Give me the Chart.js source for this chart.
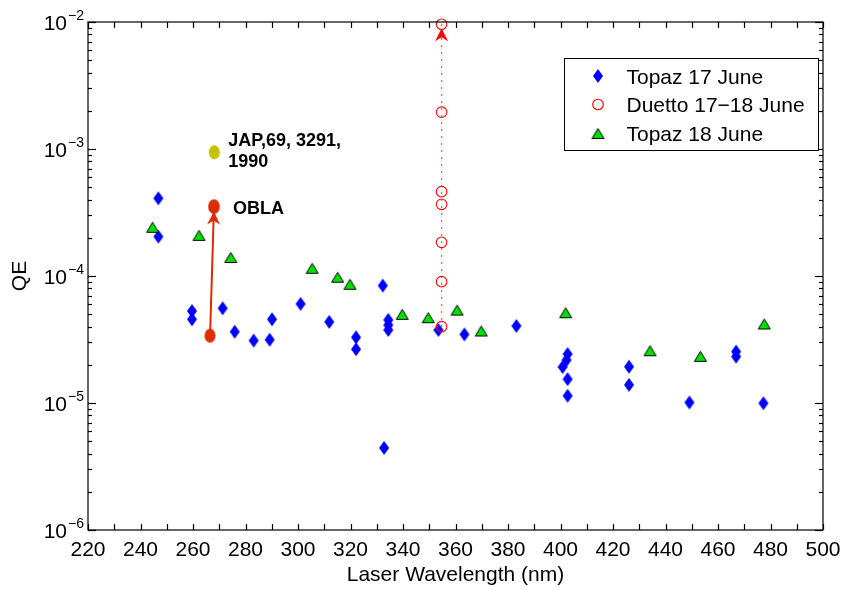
<!DOCTYPE html>
<html>
<head>
<meta charset="utf-8">
<script src="https://cdn.jsdelivr.net/npm/chart.js@4.4.1/dist/chart.umd.min.js"></script>
<style>
  html, body { margin: 0; padding: 0; background: #ffffff; }
  canvas { display: block; }
</style>
</head>
<body>
<canvas id="qe" width="842" height="590"></canvas>
<script>
// ---- Measured quantum efficiency vs. laser wavelength ----
const topaz17Wl = [246.8, 246.8, 259.6, 259.6, 271.3, 275.9, 283.1, 289.2, 290.1, 301.0,
                   311.9, 322.1, 322.1, 332.3, 332.8, 334.4, 334.4, 334.4, 353.5, 363.4,
                   383.2, 402.7, 402.3, 400.8, 402.7, 402.7, 426.1, 426.1, 449.1, 466.9,
                   466.9, 477.3];
const topaz17QE = [4.09e-4, 2.04e-4, 5.3e-5, 4.56e-5, 5.57e-5, 3.64e-5, 3.1e-5, 3.15e-5, 4.56e-5, 6.03e-5,
                   4.35e-5, 3.29e-5, 2.65e-5, 8.4e-5, 4.43e-6, 4.51e-5, 4.11e-5, 3.76e-5, 3.76e-5, 3.47e-5,
                   4.04e-5, 2.43e-5, 2.18e-5, 1.92e-5, 1.54e-5, 1.14e-5, 1.93e-5, 1.39e-5, 1.01e-5, 2.54e-5,
                   2.32e-5, 9.96e-6];

const duettoWl = [354.7, 354.7, 354.7, 354.7, 354.7, 354.7, 354.7];
const duettoQE = [3.99e-5, 9.02e-5, 1.84e-4, 3.67e-4, 4.61e-4, 1.95e-3, 9.6e-3];

const topaz18Wl = [244.6, 262.3, 274.4, 305.4, 315.1, 319.8, 339.7, 349.6, 360.6, 369.8,
                   402.0, 434.1, 453.3, 477.6];
const topaz18QE = [2.42e-4, 2.09e-4, 1.40e-4, 1.15e-4, 9.78e-5, 8.61e-5, 4.99e-5, 4.7e-5, 5.39e-5, 3.69e-5,
                   5.14e-5, 2.58e-5, 2.33e-5, 4.19e-5];

// OBLA improvement (before -> after) and the literature reference value
const oblaWl = [266.5, 268.0];
const oblaQE = [3.39e-5, 3.52e-4];
const japWl = [268.1];
const japQE = [9.42e-4];

const seriesNames = ['Topaz 17 June', 'Duetto 17\u221218 June', 'Topaz 18 June'];
const japLabel = ['JAP,69, 3291,', '1990'];
const oblaLabel = 'OBLA';

// Axis ticks
const xTickLabels = [220, 240, 260, 280, 300, 320, 340, 360, 380, 400, 420, 440, 460, 480, 500];
const yDecades = [-6, -5, -4, -3, -2];
const xTitle = 'Laser Wavelength (nm)';
const yTitle = 'QE';

const FONT = '"Liberation Sans", Arial, Helvetica, sans-serif';
const BLUE = '#0000ff';
const GREEN = '#00e000';
const RED = '#ff0000';
const OBLA_RED = '#dc2c00';
const OLIVE = '#c6c000';

const toXY = (xs, ys) => xs.map((v, i) => ({ x: v, y: ys[i] }));

// ---- marker sprites ----
function sprite(w, h, paint) {
  const c = document.createElement('canvas');
  c.width = w; c.height = h;
  paint(c.getContext('2d'), w, h);
  return c;
}
const diamondMark = sprite(12, 16, (g) => {
  g.fillStyle = BLUE;
  g.beginPath();
  g.moveTo(6, 1); g.lineTo(11, 8); g.lineTo(6, 15); g.lineTo(1, 8);
  g.closePath(); g.fill();
});
const triangleMark = sprite(15, 13, (g) => {
  g.fillStyle = GREEN; g.strokeStyle = '#000'; g.lineWidth = 1;
  g.beginPath();
  g.moveTo(7.5, 1.5); g.lineTo(13.5, 11.5); g.lineTo(1.5, 11.5);
  g.closePath(); g.fill(); g.stroke();
});
function ellipseMark(color) {
  return sprite(13, 16, (g) => {
    g.fillStyle = color;
    g.beginPath();
    g.ellipse(6.5, 8, 5.5, 7, 0, 0, Math.PI * 2);
    g.fill();
  });
}
const oblaMark = ellipseMark(OBLA_RED);
const japMark = ellipseMark(OLIVE);

// ---- arrowheads, axis frame, ticks, labels and legend ----
function arrowHead(ctx, x0, y0, x1, y1, color) {
  const ang = Math.atan2(y1 - y0, x1 - x0);
  const len = 13, half = 6.5, notch = 9;
  ctx.save();
  ctx.translate(x1, y1);
  ctx.rotate(ang);
  ctx.fillStyle = color;
  ctx.beginPath();
  ctx.moveTo(0, 0);
  ctx.lineTo(-len, -half);
  ctx.lineTo(-notch, 0);
  ctx.lineTo(-len, half);
  ctx.closePath();
  ctx.fill();
  ctx.restore();
}

const framePlugin = {
  id: 'matFrame',
  afterDatasetsDraw(chart) {
    const { ctx, scales: { x, y } } = chart;
    // Duetto arrow: from the lowest reading toward the highest
    const dx = x.getPixelForValue(duettoWl[duettoWl.length - 1]);
    const dTop = y.getPixelForValue(duettoQE[duettoQE.length - 1]);
    const dBot = y.getPixelForValue(duettoQE[0]);
    arrowHead(ctx, dx, dBot, dx, dTop + 4, RED);
    // OBLA arrow
    const ox0 = x.getPixelForValue(oblaWl[0]), oy0 = y.getPixelForValue(oblaQE[0]);
    const ox1 = x.getPixelForValue(oblaWl[1]), oy1 = y.getPixelForValue(oblaQE[1]);
    arrowHead(ctx, ox0, oy0, ox1, oy1 + 5, OBLA_RED);
    // redraw top OBLA marker above the head
    ctx.drawImage(oblaMark, ox1 - oblaMark.width / 2, oy1 - oblaMark.height / 2);
  },
  afterDraw(chart) {
    const { ctx, chartArea: { left, right, top, bottom }, scales: { x, y } } = chart;
    ctx.save();
    ctx.strokeStyle = '#000';
    ctx.fillStyle = '#000';
    ctx.lineWidth = 1.2;
    const seg = (a, b, c, d) => { ctx.beginPath(); ctx.moveTo(a, b); ctx.lineTo(c, d); ctx.stroke(); };

    // frame
    ctx.strokeRect(left, top, right - left, bottom - top);

    // x ticks every 10 nm, top and bottom, pointing inward
    for (let v = xTickLabels[0]; v <= xTickLabels[xTickLabels.length - 1]; v += 10) {
      const px = Math.round(x.getPixelForValue(v)) + 0.5;
      seg(px, bottom, px, bottom - 6);
      seg(px, top, px, top + 6);
    }
    // y ticks: decades and 2..9 minors, both sides
    for (let i = 0; i < yDecades.length; i++) {
      const base = Math.pow(10, yDecades[i]);
      const py = Math.round(y.getPixelForValue(base)) + 0.5;
      seg(left, py, left + 8, py);
      seg(right, py, right - 8, py);
      if (i < yDecades.length - 1) {
        for (let m = 2; m <= 9; m++) {
          const pm = Math.round(y.getPixelForValue(base * m)) + 0.5;
          seg(left, pm, left + 4, pm);
          seg(right, pm, right - 4, pm);
        }
      }
    }

    // x tick labels
    ctx.font = '21px ' + FONT;
    ctx.textAlign = 'center';
    ctx.textBaseline = 'alphabetic';
    xTickLabels.forEach(v => ctx.fillText(String(v), x.getPixelForValue(v), bottom + 26));

    // y tick labels as 10 with a raised exponent
    yDecades.forEach(e => {
      const py = y.getPixelForValue(Math.pow(10, e));
      const sup = '\u2212' + Math.abs(e);
      ctx.font = '14px ' + FONT;
      ctx.textAlign = 'right';
      const supW = ctx.measureText(sup).width;
      ctx.fillText(sup, left - 4, py - 2);
      ctx.font = '21px ' + FONT;
      ctx.fillText('10', left - 4 - supW - 1, py + 7.5);
    });

    // axis titles
    ctx.font = '21px ' + FONT;
    ctx.textAlign = 'center';
    ctx.fillText(xTitle, (left + right) / 2, bottom + 51);
    ctx.save();
    ctx.translate(26, (top + bottom) / 2);
    ctx.rotate(-Math.PI / 2);
    ctx.fillText(yTitle, 0, 0);
    ctx.restore();

    // annotations
    ctx.font = 'bold 18px ' + FONT;
    ctx.textAlign = 'left';
    const jx = x.getPixelForValue(japWl[0]), jy = y.getPixelForValue(japQE[0]);
    ctx.fillText(japLabel[0], jx + 14, jy - 6);
    ctx.fillText(japLabel[1], jx + 14, jy + 15);
    const ox = x.getPixelForValue(oblaWl[1]), oy = y.getPixelForValue(oblaQE[1]);
    ctx.fillText(oblaLabel, ox + 19, oy + 7);

    // legend box
    const lx = right - 258.5, ly = top + 36.5, lw = 254, lh = 92;
    ctx.fillStyle = '#fff';
    ctx.fillRect(lx, ly, lw, lh);
    ctx.lineWidth = 1;
    ctx.strokeStyle = '#000';
    ctx.strokeRect(lx, ly, lw, lh);
    const mx = lx + 33.5, tx = lx + 62;
    const rows = [ly + 17.5, ly + 46, ly + 75];
    ctx.drawImage(diamondMark, mx - 6, rows[0] - 8);
    ctx.beginPath();
    ctx.arc(mx, rows[1], 5.3, 0, Math.PI * 2);
    ctx.strokeStyle = RED; ctx.lineWidth = 1.1; ctx.stroke();
    ctx.drawImage(triangleMark, mx - 7.5, rows[2] - 6.5);
    ctx.fillStyle = '#000';
    ctx.font = '21px ' + FONT;
    ctx.textAlign = 'left';
    seriesNames.forEach((n, i) => ctx.fillText(n, tx, rows[i] + 7.5));
    ctx.restore();
  }
};

new Chart(document.getElementById('qe'), {
  type: 'scatter',
  data: {
    datasets: [
      { label: seriesNames[0], data: toXY(topaz17Wl, topaz17QE), pointStyle: diamondMark,
        pointRadius: 5, order: 5, clip: false },
      { label: seriesNames[1], data: toXY(duettoWl, duettoQE), pointStyle: 'circle',
        pointRadius: 5.3, pointBorderWidth: 1.1, pointBorderColor: RED,
        pointBackgroundColor: 'rgba(0,0,0,0)', showLine: true,
        borderColor: '#ff2a2a', borderWidth: 1.3, borderDash: [1.5, 5.5], order: 4, clip: false },
      { label: seriesNames[2], data: toXY(topaz18Wl, topaz18QE), pointStyle: triangleMark,
        pointRadius: 5, order: 3, clip: false },
      { label: 'OBLA', data: toXY(oblaWl, oblaQE), pointStyle: oblaMark, pointRadius: 5,
        showLine: true, borderColor: OBLA_RED, borderWidth: 2, order: 2, clip: false },
      { label: 'JAP', data: toXY(japWl, japQE), pointStyle: japMark, pointRadius: 5,
        order: 1, clip: false }
    ]
  },
  options: {
    responsive: false,
    animation: false,
    devicePixelRatio: 1,
    layout: { padding: { left: 88, right: 19, top: 22, bottom: 60 } },
    plugins: { legend: { display: false }, tooltip: { enabled: false } },
    scales: {
      x: { type: 'linear', min: 220, max: 500, display: false },
      y: { type: 'logarithmic', min: 1e-6, max: 1e-2, display: false }
    }
  },
  plugins: [framePlugin]
});
</script>
</body>
</html>
